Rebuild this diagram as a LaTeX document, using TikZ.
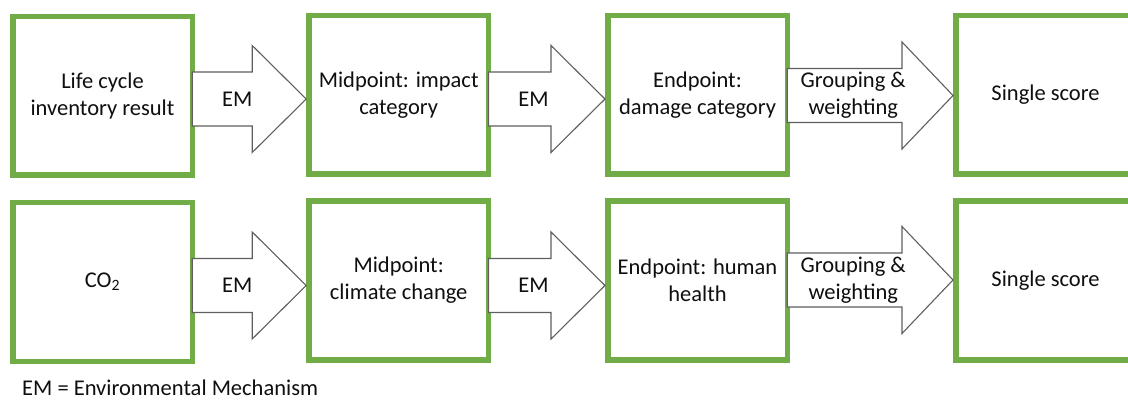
\documentclass[tikz,border=0pt]{standalone}
\usepackage{fontspec}
\setmainfont{Carlito}
\usetikzlibrary{calc}
\definecolor{boxgreen}{RGB}{112,173,71}
\definecolor{arrowgray}{RGB}{95,95,95}
\definecolor{txt}{RGB}{15,15,15}
\newcommand{\myblockarrow}[3]{%
  \draw[barrow] ($(#1)+(0,-27)$) -- ($(#2)+(-#3,-27)$) -- ($(#2)+(-#3,-53.5)$) -- (#2)
    -- ($(#2)+(-#3,53.5)$) -- ($(#2)+(-#3,27)$) -- ($(#1)+(0,27)$) -- cycle;}
\begin{document}
\begin{tikzpicture}[x=1pt,y=-1pt,
  font=\fontsize{22.5}{27}\selectfont,
  box/.style={draw=boxgreen, line width=5.5pt, fill=white, minimum width=179.5pt,
    minimum height=158.5pt, outer sep=0pt, inner sep=0pt, align=center, text=txt},
  barrow/.style={draw=arrowgray, line width=1.1pt, fill=white, line join=miter},
  lbl/.style={align=center, inner sep=0pt, text=txt}]
\useasboundingbox (0,0) rectangle (1128,401);
\clip (0,0) rectangle (1128,401);
% row 1
\node[box] (r1a) at (102.5,96) {Life cycle\\inventory result};
\node[box] (r1b) at (398.7,95) {Midpoint: impact\\category};
\node[box] (r1c) at (697.5,95) {Endpoint:\\damage category};
\node[box] (r1d) at (1045.5,95) {Single score};
% row 2
\node[box] (r2a) at (102.5,282) {CO\textsubscript{2}};
\node[box] (r2b) at (398.7,280.5) {Midpoint:\\climate change};
\node[box] (r2c) at (697.5,280.5) {Endpoint: human\\health};
\node[box] (r2d) at (1045.5,280.5) {Single score};
% arrow axes
\coordinate (ya) at (0,99);
\coordinate (yb) at (0,95.5);
\coordinate (yc) at (0,285.5);
\coordinate (yd) at (0,280);
% arrow ends
\coordinate (s11) at (r1a.east |- ya);
\coordinate (t11) at ($(r1b.west |- ya)+(-2.75,0)$);
\coordinate (s12) at (r1b.east |- ya);
\coordinate (t12) at ($(r1c.west |- ya)+(-2.75,0)$);
\coordinate (s13) at (r1c.east |- yb);
\coordinate (t13) at ($(r1d.west |- yb)+(-2.75,0)$);
\coordinate (s21) at (r2a.east |- yc);
\coordinate (t21) at ($(r2b.west |- yc)+(-2.75,0)$);
\coordinate (s22) at (r2b.east |- yc);
\coordinate (t22) at ($(r2c.west |- yc)+(-2.75,0)$);
\coordinate (s23) at (r2c.east |- yd);
\coordinate (t23) at ($(r2d.west |- yd)+(-2.75,0)$);
\myblockarrow{s11}{t11}{54}
\myblockarrow{s12}{t12}{54}
\myblockarrow{s13}{t13}{51}
\myblockarrow{s21}{t21}{54}
\myblockarrow{s22}{t22}{54}
\myblockarrow{s23}{t23}{51}
% arrow labels
\node[lbl] (l11) at ($(s11)+(45,0)$) {EM};
\node[lbl] (l12) at ($(s12)+(45,0)$) {EM};
\node[lbl] (l13) at ($(s13)+(66,0)$) {Grouping \&\\weighting};
\node[lbl] (l21) at ($(s21)+(45,0)$) {EM};
\node[lbl] (l22) at ($(s22)+(45,0)$) {EM};
\node[lbl] (l23) at ($(s23)+(66,0)$) {Grouping \&\\weighting};
% note
\node[lbl, anchor=base west] (note) at (22,395.5) {EM = Environmental Mechanism};
\end{tikzpicture}
\end{document}
